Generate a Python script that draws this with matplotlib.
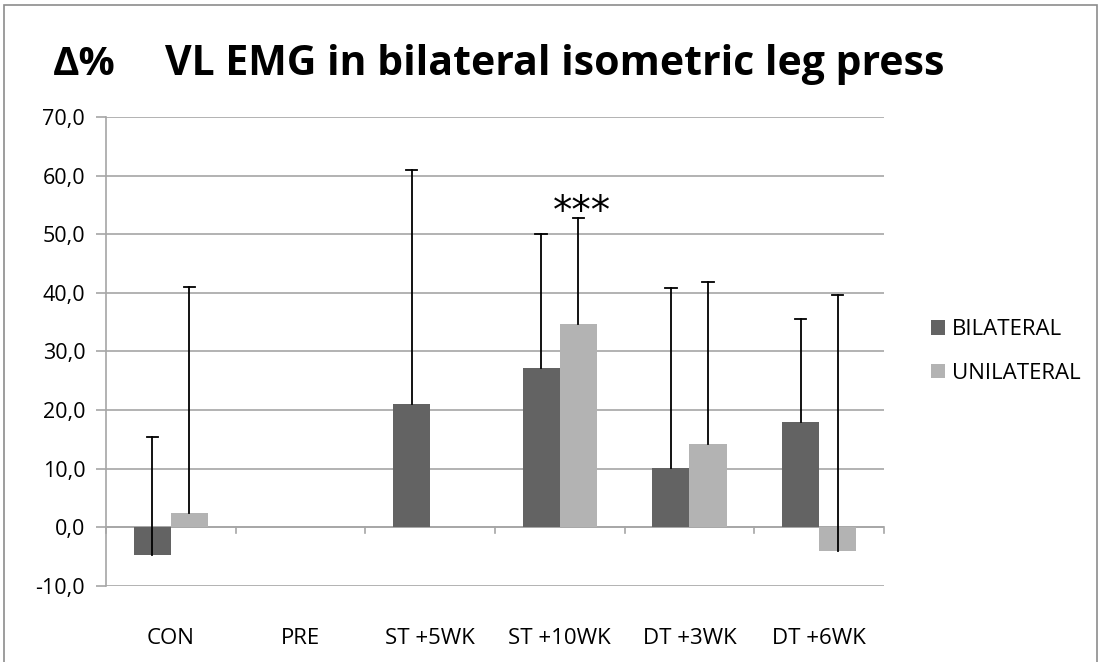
import numpy as np
import matplotlib
matplotlib.use("Agg")
import matplotlib.pyplot as plt
from matplotlib.patches import Rectangle

categories = ["CON", "PRE", "ST +5WK", "ST +10WK", "DT +3WK", "DT +6WK"]
bilateral = [-4.7, 0.0, 21.1, 27.2, 10.1, 17.9]
unilateral = [2.4, 0.0, np.nan, 34.7, 14.3, -4.0]
# plus-only error bar extents (top of whisker minus value)
bilateral_err = [20.2, 0.0, 39.9, 22.9, 30.8, 17.6]
unilateral_err = [38.6, 0.0, np.nan, 18.1, 27.6, 43.7]
yticks = [-10, 0, 10, 20, 30, 40, 50, 60, 70]

dark = "#636363"
light = "#b3b3b3"
grid = "#a6a6a6"

plt.rcParams["font.family"] = ["Open Sans", "DejaVu Sans"]

fig = plt.figure(figsize=(11, 6.62), dpi=100)
ax = fig.add_axes([0.0964, 0.1148, 0.7072, 0.7085])

x = np.arange(len(categories))
w = 1 / 3.5
ax.bar(x - w / 2, bilateral, w, color=dark, label="BILATERAL", zorder=3)
ax.bar(x + w / 2, unilateral, w, color=light, label="UNILATERAL", zorder=3)

# plus-direction error bars with a cap on top only
cap = 0.045
for xs, vals, errs in [(x - w / 2, bilateral, bilateral_err), (x + w / 2, unilateral, unilateral_err)]:
    for xi, v, e in zip(xs, vals, errs):
        if np.isnan(v) or e == 0:
            continue
        ax.plot([xi, xi], [v, v + e], color="black", linewidth=1.3, zorder=4)
        ax.plot([xi - cap, xi + cap], [v + e, v + e], color="black", linewidth=1.3, zorder=4)

ax.text(3 + w / 2 + 0.03, 53.8, "***", ha="center", va="center", fontsize=28,
        family="DejaVu Sans", zorder=5)

ax.set_xlim(-0.5, len(categories) - 0.5)
ax.set_ylim(-10, 70)
ax.set_yticks(yticks)
ax.set_yticklabels([f"{t:.1f}".replace(".", ",") for t in yticks], fontsize=15.5)
ax.yaxis.grid(True, color=grid, linewidth=1.2, zorder=0)
ax.tick_params(axis="y", length=7, color=grid, width=1.2, pad=8)

ax.set_xticks(x)
ax.set_xticklabels(categories, fontsize=16)
ax.tick_params(axis="x", length=0, pad=30)
for b in np.arange(-0.5, len(categories), 1.0):
    ax.plot([b, b], [0, -1.0], color=grid, linewidth=1.2, clip_on=False, zorder=2)
ax.axhline(0, color=grid, linewidth=1.2, zorder=2)

for s in ["top", "right", "bottom"]:
    ax.spines[s].set_visible(False)
ax.spines["left"].set_color(grid)
ax.spines["left"].set_linewidth(1.2)

ax.legend(loc="center left", bbox_to_anchor=(1.035, 0.5), frameon=False,
          fontsize=16, handlelength=0.6, handleheight=0.6, labelspacing=1.0,
          handletextpad=0.35)

fig.text(0.077, 0.902, "Δ%", fontsize=29, fontweight="bold", ha="center", va="center")
fig.text(0.15, 0.902, "VL EMG in bilateral isometric leg press", fontsize=29.5,
         fontweight="bold", ha="left", va="center")

fig.patches.append(Rectangle((0.004, -0.01), 0.993, 1.003, transform=fig.transFigure,
                             fill=False, edgecolor="#8c8c8c", linewidth=1.2))

fig.savefig("out.png", dpi=100)
